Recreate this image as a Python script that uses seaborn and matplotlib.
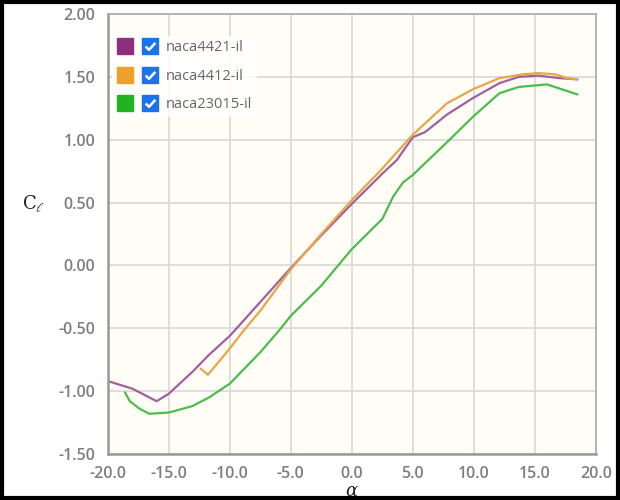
import numpy as np
import pandas as pd
import matplotlib
matplotlib.use("Agg")
import matplotlib.pyplot as plt
from matplotlib.lines import Line2D
from matplotlib.legend_handler import HandlerTuple
from matplotlib.patches import Rectangle
from matplotlib.path import Path
import seaborn as sns

# lift curves
alpha_4421 = [-20, -18, -16, -15, -13, -11.7, -10, -7.5, -5, -2.5, 0, 2.5, 3.7, 5, 6,
              7.8, 9.9, 12.1, 13.7, 15.3, 17, 18.5]
cl_4421 = [-0.92, -0.98, -1.08, -1.02, -0.84, -0.71, -0.56, -0.29, -0.02, 0.24, 0.49,
           0.73, 0.84, 1.02, 1.06, 1.20, 1.33, 1.45, 1.50, 1.51, 1.49, 1.48]

alpha_4412 = [-12.4, -11.8, -10, -8.8, -7.5, -5, -2.5, 0, 2.3, 5, 7.8, 9.9, 12.1, 14,
              15.3, 16.7, 17.6, 18.5]
cl_4412 = [-0.82, -0.87, -0.66, -0.51, -0.36, -0.03, 0.25, 0.52, 0.75, 1.04, 1.29,
           1.40, 1.49, 1.52, 1.53, 1.52, 1.49, 1.48]

alpha_23015 = [-18.6, -18.2, -17.4, -16.6, -15, -13.1, -11.7, -10, -7.5, -5.9, -5,
               -2.5, 0, 2.5, 3.4, 4.2, 5, 7.8, 9.9, 12.1, 13.7, 16, 18.5]
cl_23015 = [-1.01, -1.08, -1.14, -1.18, -1.17, -1.12, -1.05, -0.94, -0.69, -0.51,
            -0.40, -0.16, 0.13, 0.37, 0.55, 0.66, 0.72, 0.98, 1.18, 1.37, 1.42, 1.44, 1.36]

names = ["naca4421-il", "naca4412-il", "naca23015-il"]
line_colors = ["#a0609e", "#e8a646", "#4cbc4c"]
box_colors = ["#8e2f7e", "#eda12c", "#22b322"]
x_ticks = [-20, -15, -10, -5, 0, 5, 10, 15, 20]
y_ticks = [-1.5, -1.0, -0.5, 0.0, 0.5, 1.0, 1.5, 2.0]

df = pd.concat([
    pd.DataFrame({"alpha": alpha_4421, "cl": cl_4421, "foil": names[0]}),
    pd.DataFrame({"alpha": alpha_4412, "cl": cl_4412, "foil": names[1]}),
    pd.DataFrame({"alpha": alpha_23015, "cl": cl_23015, "foil": names[2]}),
])

sns.set_style("white")
plt.rcParams['font.family'] = ['Open Sans', 'DejaVu Sans']
plt.rcParams['mathtext.fontset'] = 'dejavuserif'

fig = plt.figure(figsize=(6.2, 5), dpi=100)
ax = fig.add_axes([0.174, 0.092, 0.787, 0.88])
ax.set_facecolor("#fffdf6")

sns.lineplot(data=df, x="alpha", y="cl", hue="foil", palette=dict(zip(names, line_colors)),
             sort=False, estimator=None, linewidth=1.6, legend=False, ax=ax)

ax.set_xlim(-20, 20)
ax.set_ylim(-1.5, 2.0)
ax.set_xticks(x_ticks)
ax.set_yticks(y_ticks)
ax.set_xticklabels([f"{t:.1f}" for t in x_ticks], fontweight="semibold")
ax.set_yticklabels([f"{t:.2f}" for t in y_ticks], fontweight="semibold")
ax.grid(True, color="#dcdad6", linewidth=1.3)
ax.tick_params(axis="both", direction="out", length=5, width=1.2, color="#999999",
               labelcolor="#7f7f7f", labelsize=11.5, pad=4)
for s in ax.spines.values():
    s.set_color("#aaaaaa")
    s.set_linewidth(1.2)
ax.spines["left"].set_linewidth(1.8)
ax.spines["bottom"].set_linewidth(1.8)
ax.spines["left"].set_color("#999999")
ax.spines["bottom"].set_color("#999999")

ax.set_xlabel(r"$\alpha$", fontsize=13, color="#222222", labelpad=0)
ax.set_ylabel(r"$\mathrm{C}_{\ell}$", fontsize=13, color="#222222", rotation=0)
ax.yaxis.set_label_coords(-0.152, 0.545)

# legend: coloured box + ticked checkbox
check = Path([(-0.8, 0.0), (-0.25, -0.55), (0.8, 0.6)],
             [Path.MOVETO, Path.LINETO, Path.LINETO])
handles = []
hmap = {}
for c in box_colors:
    sq = Line2D([], [], marker="s", markersize=11, color=c, linestyle="none")
    cb = Line2D([], [], marker="s", markersize=11, color="#1a73e8", linestyle="none")
    tick = Line2D([], [], marker=check, markersize=7, markerfacecolor="none",
                  markeredgecolor="white", markeredgewidth=1.8, linestyle="none")
    inner = (cb, tick)
    hmap[inner] = HandlerTuple(ndivide=1)
    handles.append((sq, inner))
hmap[tuple] = HandlerTuple(ndivide=None, pad=0.5)
leg = ax.legend(handles, names, loc="upper left", bbox_to_anchor=(0.0, 0.96),
                handler_map=hmap,
                handlelength=2.9, handletextpad=0.5, labelspacing=0.92,
                frameon=True, facecolor="white", edgecolor="none", framealpha=0.85,
                fontsize=10.5, borderpad=0.3, borderaxespad=0.3)
for t in leg.get_texts():
    t.set_color("#666666")

fig.patches.append(Rectangle((0.004, 0.004), 0.992, 0.992, transform=fig.transFigure,
                             fill=False, edgecolor="black", linewidth=3))

fig.savefig("out.png", dpi=100)
